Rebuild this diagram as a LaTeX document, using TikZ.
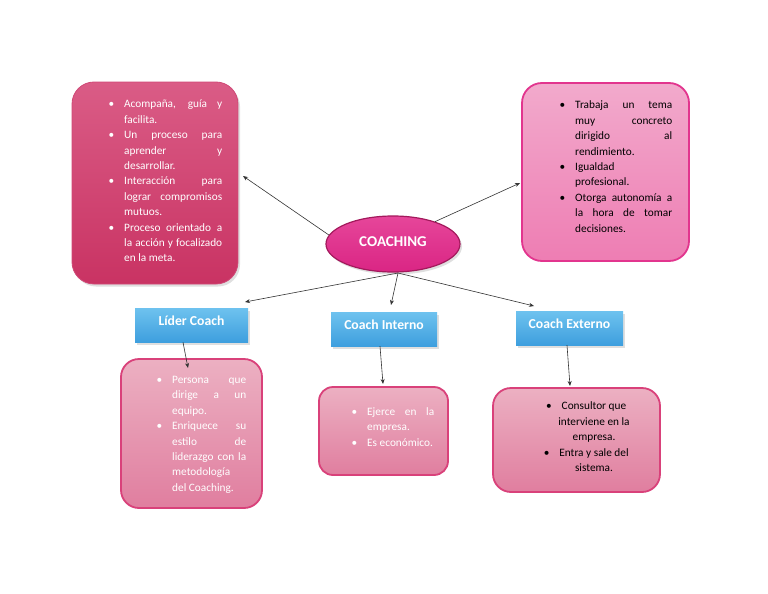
\documentclass[tikz,border=0pt]{standalone}
\usepackage{fontspec}
\setmainfont{Carlito}
\usetikzlibrary{shadows,arrows.meta,shapes.geometric}
\definecolor{tltop}{HTML}{DA5C86}
\definecolor{tlbot}{HTML}{C93363}
\definecolor{tlbrd}{HTML}{D04876}
\definecolor{trtop}{HTML}{F2AACC}
\definecolor{trbot}{HTML}{EE7DB3}
\definecolor{trbrd}{HTML}{E2358E}
\definecolor{eltop}{HTML}{E6469A}
\definecolor{elbot}{HTML}{DA2584}
\definecolor{elbrd}{HTML}{A3195C}
\definecolor{bltop}{HTML}{6EC2EF}
\definecolor{blbot}{HTML}{3E9FDE}
\definecolor{lptop}{HTML}{ECB0C2}
\definecolor{lpbot}{HTML}{E07E9F}
\definecolor{lpbrd}{HTML}{D9417A}
\definecolor{linec}{HTML}{333333}
\newcommand\J[2]{\makebox[#1][s]{#2}}
\newcommand\B{\llap{\textbullet\hspace{10pt}}}
\tikzset{
  shad/.style={drop shadow={shadow xshift=2pt,shadow yshift=-2.5pt,opacity=0.25}},
  tlbox/.style={rectangle,rounded corners=22pt,top color=tltop,bottom color=tlbot,draw=tlbrd,line width=0.8pt,shad,inner sep=0pt},
  trbox/.style={rectangle,rounded corners=20pt,top color=trtop,bottom color=trbot,draw=trbrd,line width=1.8pt,inner sep=0pt},
  lpbox/.style={rectangle,rounded corners=18pt,top color=lptop,bottom color=lpbot,draw=lpbrd,line width=1.8pt,inner sep=0pt},
  bluebox/.style={rectangle,top color=bltop,bottom color=blbot,shad,inner sep=0pt,text=white,text height=9pt,text depth=9pt,font=\fontsize{13.7}{16}\selectfont\bfseries},
  body/.style={inner sep=0pt,anchor=north west,align=left,font=\fontsize{11.3}{15.4}\selectfont},
  arr/.style={draw=linec,line width=0.6pt,-{Stealth[length=5pt,width=4pt]}}
}
\begin{document}
\begin{tikzpicture}[x=1pt,y=-1pt]
\useasboundingbox[fill=white] (0,0) rectangle (768,594);
% boxes
\node[tlbox,minimum width=166pt,minimum height=202pt] (tl) at (155,183) {};
\node[trbox,minimum width=167pt,minimum height=178pt] (tr) at (605.5,172) {};
\node[ellipse,minimum width=134pt,minimum height=56pt,top color=eltop,bottom color=elbot,draw=elbrd,line width=1.2pt,shad,inner sep=0pt] (coach) at (393,244) {};
\node[text=white,font=\fontsize{15}{18}\selectfont\bfseries] (coachtxt) at (393,242) {COACHING};
\node[bluebox,minimum width=113pt,minimum height=34pt] (lider) at (191.5,325) {L\'ider Coach};
\node[bluebox,minimum width=106pt,minimum height=34pt] (interno) at (384,329) {Coach Interno};
\node[bluebox,minimum width=107pt,minimum height=34pt] (externo) at (569.5,328) {Coach Externo};
\node[lpbox,minimum width=141pt,minimum height=149pt] (liderp) at (191.5,433.5) {};
\node[lpbox,rounded corners=14pt,minimum width=129pt,minimum height=88pt] (internop) at (383.5,431) {};
\node[lpbox,minimum width=167pt,minimum height=104pt] (externop) at (576.5,440) {};
% texts
\node[body,text=white] (tltxt) at (124,97) {\strut\B\J{98pt}{Acompaña, guía y}\\
facilita.\\
\B\J{98pt}{Un proceso para}\\
\J{98pt}{aprender y}\\
desarrollar.\\
\B\J{98pt}{Interacción para}\\
\J{98pt}{lograr compromisos}\\
mutuos.\\
\B\J{98pt}{Proceso orientado a}\\
\J{98pt}{la acción y focalizado}\\
en la meta.};
\node[body,text=black] (trtxt) at (575,98) {\strut\B\J{97pt}{Trabaja un tema}\\
\J{97pt}{muy concreto}\\
\J{97pt}{dirigido al}\\
rendimiento.\\
\B Igualdad\\
profesional.\\
\B\J{97pt}{Otorga autonomía a}\\
\J{97pt}{la hora de tomar}\\
decisiones.};
\node[body,text=white] (lidertxt) at (172,372.5) {\strut\B\J{74pt}{Persona que}\\
\J{74pt}{dirige a un}\\
equipo.\\
\B\J{74pt}{Enriquece su}\\
\J{74pt}{estilo de}\\
\J{74pt}{liderazgo con la}\\
metodología\\
del Coaching.};
\node[body,text=white] (internotxt) at (367,404.5) {\strut\B\J{67pt}{Ejerce en la}\\
empresa.\\
\B Es económico.};
\node[body,text=black,anchor=north,align=center] (externotxt) at (594,399) {\strut\B Consultor que\\
interviene en la\\
empresa.\\
\B Entra y sale del\\
sistema.};
% connector ends
\coordinate (a1) at (243,176);
\coordinate (a2) at (520,183);
\coordinate (a3) at (245,302);
\coordinate (a4) at (391,305);
\coordinate (a5) at (534,306);
\coordinate (a6) at (188,368);
\coordinate (a7) at (383,384);
\coordinate (a8) at (570,386);
\coordinate (bot) at (398,273);
\draw[arr] (coach.172) -- (a1);
\draw[arr] (coach.28) -- (a2);
\draw[arr] (bot) -- (a3);
\draw[arr] (bot) -- (a4);
\draw[arr] (bot) -- (a5);
\draw[arr] (lider.south -| 183,0) -- (a6);
\draw[arr] (interno.south -| 380,0) -- (a7);
\draw[arr] (externo.south -| 567,0) -- (a8);
\end{tikzpicture}
\end{document}
